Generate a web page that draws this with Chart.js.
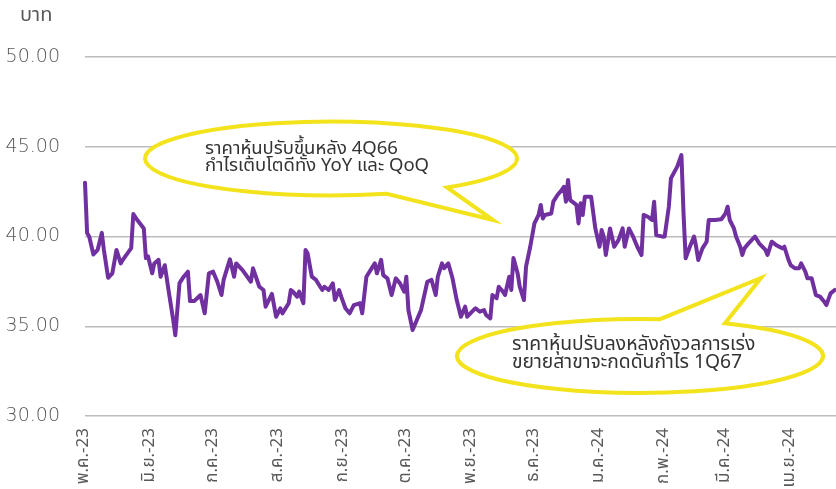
<!DOCTYPE html>
<html>
<head>
<meta charset="utf-8">
<script src="https://cdn.jsdelivr.net/npm/chart.js@4.4.1/dist/chart.umd.min.js"></script>
<style>
  html, body { margin: 0; padding: 0; background: #ffffff; overflow: hidden; }
  #wrap { width: 836px; height: 489px; overflow: hidden; position: relative; }
  canvas { display: block; }
</style>
</head>
<body>
<div id="wrap"><canvas id="c" width="836" height="520"></canvas></div>
<script>
// ---- data ----
// calendar days counted from 1 May 2023
const daysSinceStart = [0,1,2,4,6,8,9,11,13,15,17,18,22,23,25,28,29,30,32,33,35,36,38,40,42,43,45,47,49,50,52,55,57,59,61,63,65,66,69,71,72,75,79,80,83,85,86,89,91,93,94,97,98,99,101,102,104,105,106,108,110,112,113,114,116,118,119,121,122,124,126,128,131,132,134,137,138,139,141,142,144,146,148,150,152,153,154,156,158,160,163,165,167,168,170,171,173,175,177,179,181,182,185,186,188,190,191,193,194,196,197,199,200,202,203,204,206,207,209,210,212,214,216,217,218,219,222,223,225,227,228,229,230,231,232,234,235,236,237,238,241,243,245,246,247,248,250,252,254,256,257,259,261,263,265,266,268,270,271,272,275,276,278,279,282,284,285,286,288,290,291,292,294,296,297,300,303,305,306,307,309,310,312,313,314,316,319,321,324,325,327,329,332,333,335,336,338,340,341,343,344,346,348,350,352,353,355,357];
const closePrice = [43.0,40.2,40.0,39.0,39.25,40.2,39.25,37.7,37.95,39.25,38.5,38.7,39.35,41.25,40.9,40.45,38.8,38.9,37.95,38.5,38.7,37.76,38.4,36.84,35.35,34.5,37.4,37.76,38.04,36.4,36.4,36.74,35.72,37.95,38.04,37.48,36.74,37.58,38.73,37.76,38.5,38.13,37.48,38.23,37.2,37.02,36.09,36.8,35.53,36.0,35.72,36.28,37.02,36.93,36.65,36.93,36.28,39.25,39.06,37.76,37.58,37.2,37.02,37.2,37.02,37.39,36.46,37.02,36.65,36.0,35.72,36.18,36.28,35.72,37.76,38.32,38.5,37.95,38.7,37.85,37.67,36.74,37.67,37.39,36.93,37.76,35.9,34.79,35.35,35.9,37.48,37.58,36.74,37.76,38.5,38.23,38.5,37.67,36.46,35.53,36.09,35.53,35.9,36.0,35.81,35.9,35.63,35.44,36.74,36.56,37.2,36.93,36.74,37.76,37.02,38.8,37.95,37.2,36.46,38.32,39.43,40.73,41.2,41.76,41.0,41.2,41.28,41.94,42.31,42.59,42.77,41.94,43.15,42.03,41.94,41.76,40.73,41.85,41.2,42.22,42.22,40.45,39.43,40.36,39.99,38.97,40.45,39.43,39.8,40.45,39.43,40.45,39.99,39.43,38.97,41.2,41.1,40.92,41.94,40.08,39.99,40.0,41.66,43.24,43.89,44.54,41.29,38.79,39.43,40.0,39.43,38.69,39.34,39.71,40.92,40.92,40.96,41.29,41.66,40.92,40.45,40.0,39.43,38.97,39.34,39.62,40.0,39.62,39.25,38.97,39.71,39.53,39.34,39.43,38.69,38.41,38.23,38.23,38.5,38.04,37.67,37.67,36.74,36.65,36.37,36.18,36.83,37.02];

const monthLabels = ['พ.ค.-23','มิ.ย.-23','ก.ค.-23','ส.ค.-23','ก.ย.-23','ต.ค.-23','พ.ย.-23','ธ.ค.-23','ม.ค.-24','ก.พ.-24','มี.ค.-24','เม.ย.-24'];
const monthStartDays = [0,31,61,92,123,153,184,214,245,276,305,336];
const yTickValues = [30,35,40,45,50];
const unitLabel = 'บาท';
const calloutUp = ['ราคาหุ้นปรับขึ้นหลัง 4Q66', 'กำไรเติบโตดีทั้ง YoY และ QoQ'];
const calloutDown = ['ราคาหุ้นปรับลงหลังกังวลการเร่ง', 'ขยายสาขาจะกดดันกำไร 1Q67'];

// ---- styles ----
const FONT = "'Noto Sans Thai', 'Noto Sans', 'DejaVu Sans', sans-serif";
const NUMFONT = "'DejaVu Sans', 'Noto Sans', sans-serif";
const GRAY = '#595959';
const YELLOW = '#F3E31C';

function drawCallout(ctx, c, lines) {
  const side = c.tailSide; // +1 bottom, -1 top
  const tA = side * Math.acos((c.baseA - c.cx) / c.rx);
  const tB = side * Math.acos((c.baseB - c.cx) / c.rx);
  const start = Math.max(tA, tB), end = Math.min(tA, tB);
  ctx.save();
  ctx.beginPath();
  ctx.ellipse(c.cx, c.cy, c.rx, c.ry, 0, start, end, false);
  ctx.lineTo(c.tipX, c.tipY);
  ctx.closePath();
  ctx.fillStyle = '#ffffff';
  ctx.fill();
  ctx.lineWidth = 4;
  ctx.lineJoin = 'miter';
  ctx.strokeStyle = YELLOW;
  ctx.stroke();
  ctx.fillStyle = '#333333';
  ctx.font = c.fontSize + 'px ' + FONT;
  ctx.textAlign = 'left';
  ctx.textBaseline = 'middle';
  lines.forEach((t, i) => ctx.fillText(t, c.textX, c.textY + i * c.lineH));
  ctx.restore();
}

const overlay = {
  id: 'overlay',
  afterDraw(chart) {
    const ctx = chart.ctx;
    ctx.save();
    ctx.fillStyle = GRAY;
    ctx.font = '20px ' + FONT;
    ctx.textAlign = 'left';
    ctx.textBaseline = 'middle';
    ctx.fillText(unitLabel, 20, 17);
    ctx.restore();
    drawCallout(ctx, {cx: 331, cy: 158.5, rx: 186, ry: 37, tailSide: 1, baseA: 386.7, baseB: 447,
      tipX: 493, tipY: 220, textX: 205, textY: 150, lineH: 17, fontSize: 18.5}, calloutUp);
    drawCallout(ctx, {cx: 640, cy: 356, rx: 183, ry: 37, tailSide: -1, baseA: 660, baseB: 725,
      tipX: 761, tipY: 278, textX: 512, textY: 346, lineH: 18, fontSize: 19.3}, calloutDown);
  }
};

new Chart(document.getElementById('c'), {
  type: 'line',
  data: {
    datasets: [{
      data: daysSinceStart.map((d, i) => ({x: d, y: closePrice[i]})),
      borderColor: '#7030A0',
      borderWidth: 4,
      pointRadius: 0,
      tension: 0,
      borderJoinStyle: 'round',
      borderCapStyle: 'round',
      clip: false
    }]
  },
  options: {
    responsive: false,
    animation: false,
    devicePixelRatio: 1,
    layout: { padding: { top: 57, right: 0, left: 0, bottom: 0 } },
    plugins: { legend: { display: false }, tooltip: { enabled: false } },
    scales: {
      x: {
        type: 'linear',
        min: 0,
        max: 357.6,
        afterFit(scale) { scale.height = 104; },
        afterBuildTicks(axis) { axis.ticks = monthStartDays.map(v => ({ value: v })); },
        grid: { display: false, drawTicks: false },
        border: { display: false },
        ticks: {
          autoSkip: false,
          minRotation: 90,
          maxRotation: 90,
          padding: 12,
          color: GRAY,
          font: { family: FONT, size: 17 },
          callback: (v, i) => monthLabels[i]
        }
      },
      y: {
        min: 30,
        max: 50,
        afterFit(scale) { scale.width = 85; },
        afterBuildTicks(axis) { axis.ticks = yTickValues.map(v => ({ value: v })); },
        grid: { color: '#bcbcbc', lineWidth: 1.5, drawTicks: false },
        border: { display: false },
        ticks: {
          padding: 25,
          color: GRAY,
          font: { family: NUMFONT, size: 19, weight: '200' },
          callback: v => Number(v).toFixed(2)
        }
      }
    }
  },
  plugins: [overlay]
});
</script>
</body>
</html>
